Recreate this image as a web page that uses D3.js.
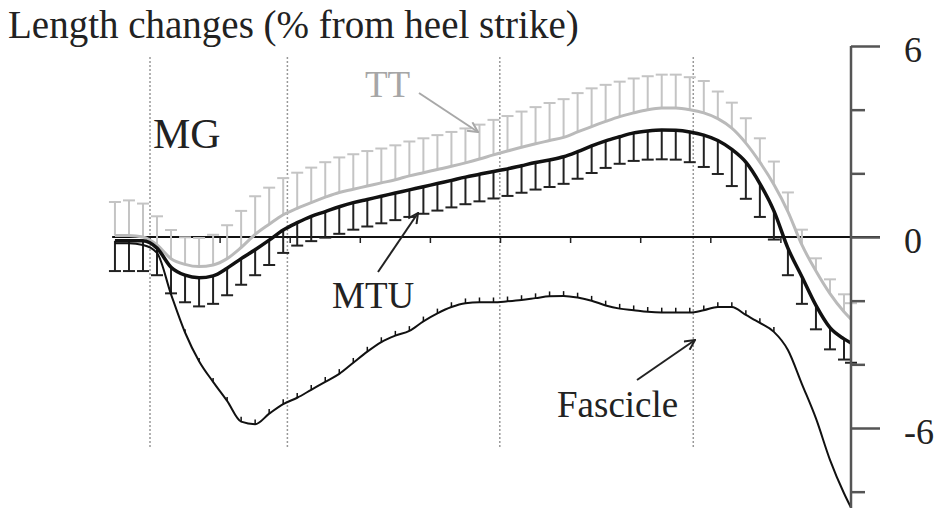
<!DOCTYPE html>
<html>
<meta charset="utf-8">
<style>
body { margin: 0; background: #fff; }
svg { display: block; }
text { font-family: "Liberation Serif", "Times New Roman", serif; fill: #222; }
.phase { stroke: #999; stroke-width: 1.5; stroke-dasharray: 2,2; }
.zero { stroke: #111; stroke-width: 2.2; }
.tt-line { fill: none; stroke: #bababa; stroke-width: 3; }
.tt-bar { stroke: #c4c4c4; stroke-width: 2; }
.mtu-line { fill: none; stroke: #111; stroke-width: 3.5; }
.mtu-bar { stroke: #222; stroke-width: 2; }
.fas-line { fill: none; stroke: #111; stroke-width: 2; }
.fas-bar { stroke: #111; stroke-width: 1.5; }
.arrow { fill: none; stroke-width: 2; }
</style>
<body>
<svg width="938" height="508"></svg>
<script src="https://cdnjs.cloudflare.com/ajax/libs/d3/7.8.5/d3.min.js"></script>
<script>

// % of stride cycle where each sample sits
var cycle = [-5, -3, -1, 1, 3, 5, 7, 9, 11, 13, 15, 17, 19, 21, 23, 25, 27, 29, 31, 33,
  35, 37, 39, 41, 43, 45, 47, 49, 51, 53, 55, 57, 59, 61, 63, 65, 67, 69, 71, 73,
  75, 77, 79, 81, 83, 85, 87, 89, 91, 93, 95, 97, 99, 100];

var ttMean = [0.05, 0.05, 0.0, -0.25, -0.68, -0.86, -0.93, -0.88, -0.68, -0.33, 0.08, 0.4, 0.7, 0.9, 1.08, 1.25, 1.4, 1.5, 1.6, 1.7,
  1.8, 1.92, 2.02, 2.12, 2.22, 2.33, 2.45, 2.58, 2.7, 2.82, 2.93, 3.03, 3.13, 3.3, 3.47, 3.63, 3.78, 3.9, 4.0, 4.05,
  4.05, 4.0, 3.9, 3.72, 3.42, 2.95, 2.35, 1.65, 0.8, -0.25, -1.07, -1.78, -2.35, -2.58];
var ttSd = [1.05, 1.1, 1.05, 0.9, 0.9, 0.85, 0.9, 0.95, 1.05, 1.15, 1.2, 1.15, 1.15, 1.12, 1.1, 1.1, 1.1, 1.1, 1.1, 1.08,
  1.08, 1.08, 1.08, 1.08, 1.08, 1.08, 1.08, 1.1, 1.1, 1.12, 1.15, 1.18, 1.2, 1.22, 1.2, 1.15, 1.1, 1.08, 1.05, 1.05,
  1.05, 1.02, 1.0, 0.85, 0.8, 0.78, 0.75, 0.72, 0.6, 0.48, 0.4, 0.45, 0.55, 0.5];

var mtuMean = [-0.12, -0.12, -0.12, -0.35, -0.95, -1.2, -1.28, -1.22, -0.98, -0.68, -0.4, -0.1, 0.22, 0.45, 0.65, 0.8, 0.95, 1.08, 1.18, 1.28,
  1.38, 1.48, 1.58, 1.68, 1.78, 1.88, 1.97, 2.06, 2.14, 2.24, 2.34, 2.42, 2.52, 2.68, 2.86, 3.02, 3.15, 3.27, 3.33, 3.36,
  3.35, 3.3, 3.2, 3.03, 2.75, 2.35, 1.68, 0.82, -0.35, -1.25, -2.15, -2.85, -3.2, -3.33];
var mtuSd = [0.95, 0.95, 0.95, 0.85, 0.82, 0.85, 0.9, 0.88, 0.85, 0.82, 0.8, 0.78, 0.72, 0.72, 0.78, 0.82, 0.85, 0.85, 0.85, 0.85,
  0.85, 0.85, 0.85, 0.85, 0.85, 0.85, 0.85, 0.85, 0.85, 0.85, 0.85, 0.85, 0.85, 0.85, 0.85, 0.85, 0.85, 0.88, 0.9, 0.92,
  0.92, 0.95, 1.0, 1.05, 1.15, 1.15, 1.05, 0.9, 0.85, 0.85, 0.75, 0.68, 0.65, 0.62];

var fasMean = [-0.2, -0.2, -0.25, -0.5, -1.8, -3.0, -3.9, -4.55, -5.15, -5.8, -5.88, -5.55, -5.25, -5.05, -4.8, -4.55, -4.3, -3.95, -3.6, -3.3,
  -3.1, -2.95, -2.65, -2.4, -2.2, -2.08, -2.05, -2.05, -2.02, -1.98, -1.92, -1.86, -1.85, -1.9, -2.0, -2.15, -2.25, -2.3, -2.35, -2.37,
  -2.37, -2.37, -2.3, -2.2, -2.2, -2.45, -2.7, -2.98, -3.55, -4.62, -5.7, -7.0, -8.05, -8.5];
var fasSd = [0.0, 0.0, 0.0, 0.1, 0.1, 0.1, 0.1, 0.12, 0.12, 0.15, 0.15, 0.15, 0.15, 0.15, 0.15, 0.15, 0.15, 0.15, 0.15, 0.15,
  0.15, 0.15, 0.15, 0.15, 0.15, 0.15, 0.15, 0.15, 0.15, 0.15, 0.15, 0.15, 0.15, 0.15, 0.15, 0.15, 0.15, 0.15, 0.15, 0.15,
  0.15, 0.15, 0.15, 0.15, 0.15, 0.15, 0.15, 0.15, 0.0, 0.0, 0.0, 0.0, 0.0, 0.0];

// dotted phase markers (% of cycle)
var phaseLines = [0, 19.6, 49.9, 77.5];
var majorTicks = [-6, 0, 6];
var minorTicks = [-8, -4, -2, 2, 4];
var cycleTicks = [0, 10, 20, 30, 40, 50, 60, 70, 80, 90];

var svg = d3.select("svg");

var x = d3.scaleLinear().domain([0, 100]).range([150, 851]);
var y = d3.scaleLinear().domain([-6, 6]).range([428, 46]);

var rows = function(mean, sd) {
  return cycle.map(function(c, i) { return { c: c, m: mean[i], s: sd[i] }; });
};
var tt = rows(ttMean, ttSd), mtu = rows(mtuMean, mtuSd), fas = rows(fasMean, fasSd);

var line = d3.line()
    .x(function(d) { return x(d.c); })
    .y(function(d) { return y(d.m); })
    .curve(d3.curveMonotoneX);

// arrow heads
var defs = svg.append("defs");
[["headGrey", "#a8a8a8"], ["headBlack", "#222"]].forEach(function(h) {
  defs.append("marker")
      .attr("id", h[0])
      .attr("viewBox", "0 0 12 12")
      .attr("refX", 11).attr("refY", 6)
      .attr("markerWidth", 12).attr("markerHeight", 12)
      .attr("markerUnits", "userSpaceOnUse")
      .attr("orient", "auto")
    .append("path")
      .attr("d", "M1,1L11,6L1,11")
      .attr("fill", "none")
      .attr("stroke", h[1])
      .attr("stroke-width", 2);
});

svg.append("g").selectAll("line")
  .data(phaseLines)
  .enter().append("line")
    .attr("class", "phase")
    .attr("x1", function(d) { return x(d); })
    .attr("x2", function(d) { return x(d); })
    .attr("y1", 57).attr("y2", 448);

// zero line + cycle ticks
svg.append("line")
    .attr("class", "zero")
    .attr("x1", x(-5.4)).attr("x2", x(100) + 29)
    .attr("y1", y(0)).attr("y2", y(0));
svg.append("g").selectAll("line")
  .data(cycleTicks)
  .enter().append("line")
    .attr("stroke", "#222").attr("stroke-width", 1.5)
    .attr("x1", function(d) { return x(d); })
    .attr("x2", function(d) { return x(d); })
    .attr("y1", y(0)).attr("y2", y(0) + 6);

function bars(data, cls, dir, cap) {
  var g = svg.append("g");
  var ok = data.filter(function(d) { return d.s > 0; });
  g.selectAll(".v").data(ok).enter().append("line")
      .attr("class", cls)
      .attr("x1", function(d) { return x(d.c); })
      .attr("x2", function(d) { return x(d.c); })
      .attr("y1", function(d) { return y(d.m); })
      .attr("y2", function(d) { return y(d.m + dir * d.s); });
  if (cap) {
    g.selectAll(".h").data(ok).enter().append("line")
        .attr("class", cls)
        .attr("x1", function(d) { return x(d.c) - cap; })
        .attr("x2", function(d) { return x(d.c) + cap; })
        .attr("y1", function(d) { return y(d.m + dir * d.s); })
        .attr("y2", function(d) { return y(d.m + dir * d.s); });
  }
}

bars(tt, "tt-bar", 1, 6);
svg.append("path").datum(tt).attr("class", "tt-line").attr("d", line);
bars(mtu, "mtu-bar", -1, 6);
svg.append("path").datum(mtu).attr("class", "mtu-line").attr("d", line);
bars(fas, "fas-bar", 1, 0);
svg.append("path").datum(fas).attr("class", "fas-line").attr("d", line);

// right axis
var ax = svg.append("g").attr("transform", "translate(" + x(100) + ",0)");
ax.append("line")
    .attr("stroke", "#555").attr("stroke-width", 2.5)
    .attr("y1", y(6)).attr("y2", y(-8.6));
ax.append("g")
    .call(d3.axisRight(y).tickValues(majorTicks).tickSize(29).tickPadding(24).tickFormat(function(d) { return String(d); }))
    .call(function(g) {
      g.select(".domain").remove();
      g.selectAll("line").attr("stroke", "#555").attr("stroke-width", 2.5);
      g.selectAll("text")
          .attr("fill", "#222")
          .attr("font-size", 36)
          .attr("dy", "0.42em")
          .style("font-family", "'Liberation Serif', serif");
    });
ax.append("g")
    .call(d3.axisRight(y).tickValues(minorTicks).tickSize(14).tickFormat(""))
    .call(function(g) {
      g.select(".domain").remove();
      g.selectAll("line").attr("stroke", "#555").attr("stroke-width", 2.5);
    });

// labels
svg.append("text").attr("x", 8).attr("y", 38).attr("font-size", 39)
    .text("Length changes (% from heel strike)");
svg.append("text").attr("x", 153).attr("y", 148).attr("font-size", 42)
    .text("MG");
svg.append("text").attr("x", 365).attr("y", 97).attr("font-size", 37)
    .style("fill", "#a6a6a6").text("TT");
svg.append("text").attr("x", 332).attr("y", 308).attr("font-size", 37)
    .text("MTU");
svg.append("text").attr("x", 557).attr("y", 417).attr("font-size", 37)
    .text("Fascicle");

svg.append("line").attr("class", "arrow").attr("stroke", "#a8a8a8")
    .attr("x1", 419).attr("y1", 93).attr("x2", 478).attr("y2", 132)
    .attr("marker-end", "url(#headGrey)");
svg.append("line").attr("class", "arrow").attr("stroke", "#222")
    .attr("x1", 378).attr("y1", 272).attr("x2", 418).attr("y2", 213)
    .attr("marker-end", "url(#headBlack)");
svg.append("line").attr("class", "arrow").attr("stroke", "#222")
    .attr("x1", 637).attr("y1", 380).attr("x2", 695).attr("y2", 340)
    .attr("marker-end", "url(#headBlack)");

</script>
</body>
</html>
